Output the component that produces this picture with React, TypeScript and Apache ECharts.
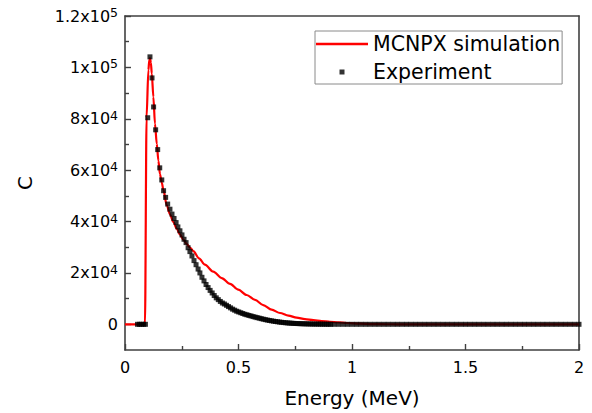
import React, { useEffect, useRef } from 'react';
import * as echarts from 'echarts';

const FONT = 'DejaVu Sans';

// MCNPX simulation (red line): energy (MeV) and counts
const mcEnergy = [0, 0.088, 0.095, 0.103, 0.107, 0.11, 0.114, 0.118, 0.125, 0.132, 0.14, 0.147, 0.154, 0.162, 0.169, 0.184, 0.198, 0.213, 0.228, 0.242, 0.257, 0.272, 0.287, 0.301, 0.326, 0.352, 0.389, 0.426, 0.463, 0.499, 0.536, 0.573, 0.609, 0.646, 0.683, 0.72, 0.756, 0.793, 0.83, 0.866, 0.903, 0.94, 0.977, 1.035, 1.09, 1.15, 1.2, 2.0];
const mcCounts = [0, 0, 80600, 98900, 102800, 103600, 101800, 97600, 88500, 78100, 70200, 63700, 58500, 55200, 52300, 46300, 42800, 39800, 37200, 35000, 33000, 31200, 29800, 28500, 25700, 23200, 20500, 18000, 15700, 13500, 11400, 9500, 7500, 5700, 4400, 3400, 2600, 2000, 1600, 1250, 1000, 750, 500, 250, 100, 30, 0, 0];

// Experiment (black squares): energy (MeV) and counts
const expEnergy = [
  0.055, 0.064, 0.073, 0.082, 0.09, 0.1, 0.11, 0.119, 0.126, 0.135, 0.144, 0.153, 0.162, 0.17, 0.179, 0.188,
  0.198, 0.207, 0.216, 0.225, 0.233, 0.242, 0.251, 0.26, 0.269, 0.278, 0.286, 0.295, 0.304, 0.313, 0.322, 0.33,
  0.339, 0.348, 0.357, 0.366, 0.375, 0.384, 0.393, 0.402, 0.411, 0.42, 0.429, 0.438, 0.447, 0.456, 0.465, 0.474,
  0.483, 0.492, 0.501, 0.51, 0.519, 0.528, 0.537, 0.546, 0.555, 0.564, 0.573, 0.582, 0.591, 0.6, 0.609, 0.618,
  0.627, 0.636, 0.645, 0.654, 0.663, 0.672, 0.681, 0.69, 0.699, 0.708, 0.717, 0.726, 0.735, 0.744, 0.753, 0.762,
  0.771, 0.78, 0.789, 0.798, 0.807, 0.816, 0.825, 0.834, 0.843, 0.852, 0.861, 0.87, 0.879, 0.888, 0.897, 0.906,
  0.92, 0.94, 0.96, 0.98, 1.0, 1.02, 1.04, 1.06, 1.08, 1.1, 1.12, 1.14, 1.16, 1.18, 1.2, 1.22, 1.24, 1.26, 1.28,
  1.3, 1.32, 1.34, 1.36, 1.38, 1.4, 1.42, 1.44, 1.46, 1.48, 1.5, 1.52, 1.54, 1.56, 1.58, 1.6, 1.62, 1.64, 1.66,
  1.68, 1.7, 1.72, 1.74, 1.76, 1.78, 1.8, 1.82, 1.84, 1.86, 1.88, 1.9, 1.92, 1.94, 1.96, 1.98, 2.0,
];
const expCounts = [
  0, 0, 0, 0, 0, 80400, 104100, 95900, 84600, 75700, 68000, 60900, 56200, 52000, 49400, 46800,
  44800, 42900, 41200, 39600, 37900, 36400, 34800, 33100, 31800, 29800, 28300, 26600, 24800, 23200, 21500, 20000,
  18300, 16900, 15500, 14300, 13200, 12200, 11200, 10300, 9600, 8900, 8300, 7900, 7400, 6900, 6400, 5900,
  5500, 5100, 4800, 4500, 4200, 3900, 3700, 3450, 3250, 3000, 2800, 2600, 2400, 2200, 2000, 1820,
  1650, 1500, 1350, 1220, 1100, 980, 870, 770, 680, 600, 530, 470, 410, 360, 320, 280,
  250, 220, 190, 170, 150, 130, 110, 100, 90, 80, 70, 60, 50, 40, 30, 20,
  0, 0, 0, 0, 0, 0, 0, 0, 0, 0, 0, 0, 0, 0, 0, 0, 0, 0, 0,
  0, 0, 0, 0, 0, 0, 0, 0, 0, 0, 0, 0, 0, 0, 0, 0, 0, 0, 0,
  0, 0, 0, 0, 0, 0, 0, 0, 0, 0, 0, 0, 0, 0, 0, 0, 0,
];

const yMajorTicks = [0, 20000, 40000, 60000, 80000, 100000, 120000];
const yMinorTicks = [10000, 30000, 50000, 70000, 90000, 110000];

const AXIS_COLOR = '#404040';

function sciLabel(v: number): string {
  if (v === 0) return '{b|0}';
  const e = Math.floor(Math.log10(v) + 1e-9);
  const m = Number((v / Math.pow(10, e)).toFixed(2));
  return `{b|${m}x10}{s|${e}}`;
}

export default function App() {
  const ref = useRef<HTMLDivElement>(null);
  useEffect(() => {
    document.body.style.margin = '0';
    const chart = echarts.init(ref.current!, null, { renderer: 'svg' });
    const axisLine = { onZero: false, lineStyle: { color: AXIS_COLOR, width: 1.6 } };
    chart.setOption({
      animation: false,
      backgroundColor: '#ffffff',
      grid: { left: 125, top: 16, right: 13, bottom: 63, containLabel: false },
      legend: {
        left: 315,
        top: 31,
        orient: 'vertical',
        itemWidth: 52,
        itemHeight: 16,
        itemGap: 6,
        padding: [2, 2, 1, 1],
        borderColor: '#8a8a8a',
        borderWidth: 1,
        textStyle: { fontFamily: FONT, fontSize: 20.5, color: '#000', lineHeight: 22 },
        data: [
          { name: 'MCNPX simulation', icon: 'path://M0,0L52,0L52,2.4L0,2.4Z', itemStyle: { color: '#ff0000' } },
          { name: 'Experiment', icon: 'path://M0,0L0,0M5.5,5.5L10.5,5.5L10.5,10.5L5.5,10.5ZM16,16L16,16' },
        ],
      },
      xAxis: [
        {
          type: 'value',
          min: 0,
          max: 2,
          interval: 0.5,
          position: 'bottom',
          axisLine,
          axisTick: { inside: true, length: 6, lineStyle: { color: AXIS_COLOR, width: 1.4 } },
          minorTick: { show: true, splitNumber: 2, length: 4, lineStyle: { color: AXIS_COLOR, width: 1.4 } },
          splitLine: { show: false },
          axisLabel: { margin: 9, fontFamily: FONT, fontSize: 16, color: '#000' },
          name: 'Energy (MeV)',
          nameLocation: 'middle',
          nameGap: 38,
          nameTextStyle: { fontFamily: FONT, fontSize: 20, color: '#000' },
        },
        {
          type: 'value',
          min: 0,
          max: 2,
          position: 'top',
          axisLine,
          axisTick: { show: false },
          axisLabel: { show: false },
          splitLine: { show: false },
        },
      ],
      yAxis: [
        {
          type: 'value',
          min: -10000,
          max: 120000,
          position: 'left',
          axisLine,
          axisTick: { inside: true, length: 6, customValues: yMajorTicks, lineStyle: { color: AXIS_COLOR, width: 1.4 } },
          splitLine: { show: false },
          axisLabel: {
            customValues: yMajorTicks,
            margin: 7,
            formatter: (v: number) => sciLabel(v),
            rich: {
              b: { fontFamily: FONT, fontSize: 16, color: '#000', lineHeight: 20 },
              s: { fontFamily: FONT, fontSize: 12.5, color: '#000', lineHeight: 12, verticalAlign: 'top' },
            },
          },
          name: 'C',
          nameLocation: 'middle',
          nameGap: 90,
          nameTextStyle: { fontFamily: FONT, fontSize: 20, color: '#000' },
        },
        {
          type: 'value',
          min: -10000,
          max: 120000,
          position: 'left',
          axisLine: { show: false, onZero: false },
          axisTick: { inside: true, length: 4, customValues: yMinorTicks, lineStyle: { color: AXIS_COLOR, width: 1.4 } },
          axisLabel: { show: false },
          splitLine: { show: false },
        },
        {
          type: 'value',
          min: -10000,
          max: 120000,
          position: 'right',
          axisLine,
          axisTick: { show: false },
          axisLabel: { show: false },
          splitLine: { show: false },
        },
      ],
      series: [
        {
          name: 'MCNPX simulation',
          type: 'line',
          xAxisIndex: 0,
          yAxisIndex: 0,
          data: mcEnergy.map((e, i) => [e, mcCounts[i]]),
          symbol: 'none',
          showSymbol: false,
          smooth: 0.3,
          smoothMonotone: 'x',
          lineStyle: { color: '#ff0000', width: 2.2 },
          itemStyle: { color: '#ff0000' },
          z: 2,
        },
        {
          name: 'Experiment',
          type: 'scatter',
          xAxisIndex: 0,
          yAxisIndex: 0,
          data: expEnergy.map((e, i) => [e, expCounts[i]]),
          symbol: 'rect',
          symbolSize: 5,
          itemStyle: { color: '#000000' },
          z: 3,
        },
      ],
    });
    return () => chart.dispose();
  }, []);
  return <div ref={ref} style={{ width: 592, height: 413 }} />;
}
